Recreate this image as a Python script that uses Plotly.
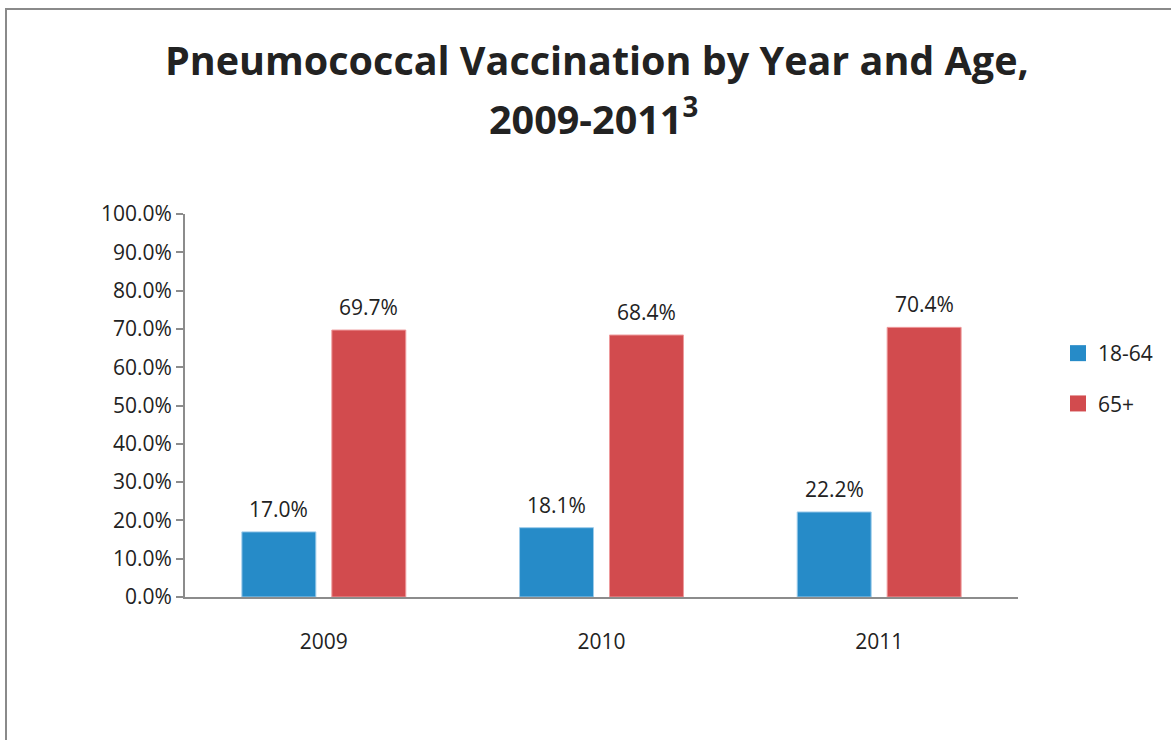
import plotly.graph_objects as go

years = ["2009", "2010", "2011"]
age_18_64 = [17.0, 18.1, 22.2]
age_65_plus = [69.7, 68.4, 70.4]
series_names = ["18-64", "65+"]
y_tick_vals = [0, 10, 20, 30, 40, 50, 60, 70, 80, 90, 100]
y_tick_text = [f"{v:.1f}%" for v in y_tick_vals]

BLUE = "#268BC8"
RED = "#D24B4E"
TXT = "#222222"
AX = "#8C8C8C"
TICKFONT = dict(family="Open Sans", size=21, color=TXT)
TITLEFONT = dict(family="Open Sans", size=39.5, color=TXT)

fig = go.Figure()
fig.add_trace(go.Bar(x=years, y=age_18_64, name=series_names[0],
                     marker=dict(color=BLUE, line=dict(color="#9CCBEA", width=1)), showlegend=False))
fig.add_trace(go.Bar(x=years, y=age_65_plus, name=series_names[1],
                     marker=dict(color=RED, line=dict(color="#EE9A9C", width=1)), showlegend=False))

# legend entries
for nm, col in zip(series_names, [BLUE, RED]):
    fig.add_trace(go.Scatter(x=[years[0]], y=[None], mode="markers", name=nm, legendgroup=nm,
                             marker=dict(symbol="square", size=16, color=col)))

L, R, T, B = 185, 153, 214, 143
W, H = 1171, 740
pw, ph = W - L - R, H - T - B

annotations = []
for vals, shift in [(age_18_64, -45), (age_65_plus, 45)]:
    for i, v in enumerate(vals):
        annotations.append(dict(x=i, y=v, xref="x", yref="y", text=f"{v:.1f}%", showarrow=False,
                                xshift=shift, yshift=7, yanchor="bottom", font=TICKFONT))

# title lines
annotations.append(dict(text="<b>Pneumococcal Vaccination by Year and Age,</b>", xref="paper", yref="paper",
                        x=(597 - L) / pw, xanchor="center", y=(597 - 60) / ph, yanchor="middle",
                        showarrow=False, font=TITLEFONT))
annotations.append(dict(text="<b>2009-2011<sup>3</sup></b>", xref="paper", yref="paper",
                        x=(593 - L) / pw, xanchor="center", y=(597 - 116) / ph, yanchor="middle",
                        showarrow=False, font=TITLEFONT))

fig.update_layout(
    width=W, height=H,
    margin=dict(l=L, r=R, t=T, b=B, pad=0),
    paper_bgcolor="white", plot_bgcolor="white",
    barmode="group", bargap=0.352, bargroupgap=0.178,
    xaxis=dict(type="category", showline=True, linecolor=AX, linewidth=2, ticks="", tickfont=TICKFONT,
               ticklabelstandoff=25, range=[-0.5, 2.5]),
    yaxis=dict(range=[0, 100], tickvals=y_tick_vals, ticktext=y_tick_text, showgrid=False,
               showline=True, linecolor=AX, linewidth=2, ticks="outside", ticklen=7,
               tickcolor=AX, tickwidth=2, tickfont=TICKFONT, zeroline=False),
    legend=dict(x=(1058 - L) / pw, xanchor="left", y=(597 - 333) / ph, yanchor="top",
                font=dict(family="Open Sans", size=21, color=TXT), tracegroupgap=20,
                itemsizing="trace"),
    annotations=annotations,
    shapes=[dict(type="rect", xref="paper", yref="paper",
                 x0=(6 - L) / pw, x1=(1200 - L) / pw,
                 y0=(597 - 800) / ph, y1=(597 - 9) / ph,
                 line=dict(color="#8A8A8A", width=2), fillcolor="rgba(0,0,0,0)", layer="below")],
)

fig.write_html("out.html", config={"displayModeBar": False},
               post_script="document.body.style.margin='0';")
